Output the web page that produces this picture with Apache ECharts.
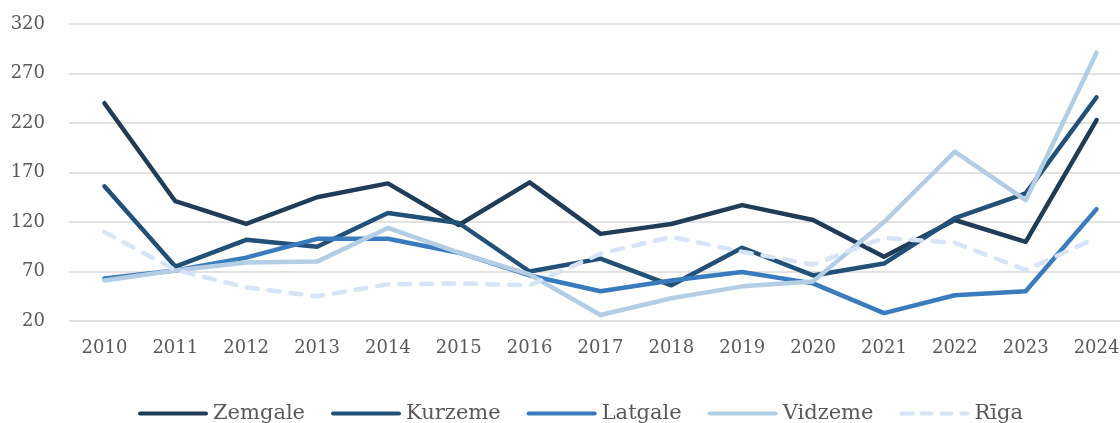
<!DOCTYPE html>
<html>
<head>
<meta charset="utf-8">
<script src="https://cdn.jsdelivr.net/npm/echarts@6/dist/echarts.min.js"></script>
<style>
html, body { margin: 0; padding: 0; background: #fff; }
#graphContainer { width: 1120px; height: 423px; }
</style>
</head>
<body>
<div id="graphContainer"></div>
<script>
var years = ['2010', '2011', '2012', '2013', '2014', '2015', '2016', '2017', '2018', '2019', '2020', '2021', '2022', '2023', '2024'];

var zemgale = [240, 141, 118, 145, 159, 117, 160, 108, 118, 137, 122, 85, 122, 100, 223];
var kurzeme = [156, 75, 102, 95, 129, 119, 70, 83, 56, 94, 66, 78, 124, 149, 246];
var latgale = [63, 71, 84, 103, 103, 89, 66, 50, 61, 69.5, 58, 28, 46, 50, 133];
var vidzeme = [61, 71, 79, 80, 114, 89, 67, 26, 43, 55, 60, 120, 191, 142, 291];
var riga = [110, 71.5, 54, 45, 57, 58, 56, 88, 105, 90, 77, 104, 99, 71.5, 104];

var seriesNames = ['Zemgale', 'Kurzeme', 'Latgale', 'Vidzeme', 'Rīga'];
var seriesValues = [zemgale, kurzeme, latgale, vidzeme, riga];
var seriesColors = ['#203c56', '#225077', '#3a7bbd', '#b3cde4', '#d6e4f5'];

var fontFamily = '"DejaVu Serif", serif';
var textColor = '#595959';

// legend icons: a thick line, or a dashed one for Rīga
var solidIcon = 'path://M2,0h66a2,2 0 0 1 0,4h-66a2,2 0 0 1 0,-4z';
var dashIcon = 'path://M2,0h12a2,2 0 0 1 0,4h-12a2,2 0 0 1 0,-4z'
	+ 'M22,0h10a2,2 0 0 1 0,4h-10a2,2 0 0 1 0,-4z'
	+ 'M42,0h10a2,2 0 0 1 0,4h-10a2,2 0 0 1 0,-4z'
	+ 'M62,0h6a2,2 0 0 1 0,4h-6a2,2 0 0 1 0,-4z';

var seriesData = [];
var legendData = [];
for (var i = 0; i < seriesNames.length; i++) {
	var dashed = seriesNames[i] == 'Rīga';
	seriesData.push({
		name: seriesNames[i],
		type: 'line',
		data: seriesValues[i],
		symbol: 'none',
		color: seriesColors[i],
		lineStyle: {
			color: seriesColors[i],
			width: 4.5,
			cap: 'round',
			join: 'round',
			type: dashed ? [11, 11] : 'solid'
		}
	});
	legendData.push({
		name: seriesNames[i],
		icon: dashed ? dashIcon : solidIcon,
		itemStyle: { color: seriesColors[i] }
	});
}

var dom = document.getElementById('graphContainer');
var myEChart = echarts.init(dom, null, { renderer: 'canvas' });

var option = {
	animation: false,
	grid: {
		left: 69,
		top: 24,
		width: 1063,
		height: 297,
		containLabel: false,
		outerBoundsMode: 'none'
	},
	xAxis: {
		type: 'category',
		data: years,
		boundaryGap: true,
		axisLine: { show: false },
		axisTick: { show: false },
		axisLabel: {
			margin: 18,
			fontFamily: fontFamily,
			fontSize: 18,
			color: textColor
		}
	},
	yAxis: {
		type: 'value',
		min: 20,
		max: 320,
		interval: 50,
		axisLine: { show: false },
		axisTick: { show: false },
		axisLabel: {
			margin: 24,
			fontFamily: fontFamily,
			fontSize: 18,
			color: textColor
		},
		splitLine: {
			lineStyle: { color: '#d9d9d9', width: 1.5 }
		}
	},
	legend: {
		top: 398,
		left: 133,
		itemWidth: 70,
		itemHeight: 4.5,
		itemGap: 26,
		data: legendData,
		textStyle: {
			fontFamily: fontFamily,
			fontSize: 21,
			color: textColor
		}
	},
	series: seriesData
};

myEChart.setOption(option);
</script>
</body>
</html>
